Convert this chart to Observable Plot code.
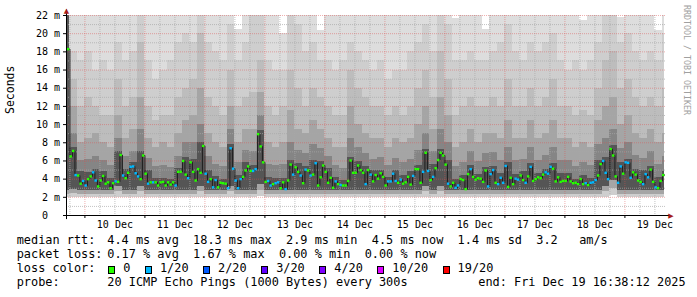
<!DOCTYPE html>
<html><head><meta charset="utf-8">
<script src="https://cdn.jsdelivr.net/npm/d3@7"></script>
<script src="https://cdn.jsdelivr.net/npm/@observablehq/plot@0.6"></script>
<style>
html,body{margin:0;padding:0;background:#fff;}
body{width:697px;height:297px;overflow:hidden;position:relative;}
#chart{position:absolute;left:0;top:0;}
.lg{position:absolute;font:11.88px/1 "DejaVu Sans Mono",monospace;white-space:pre;color:#000;}
.sq{position:absolute;box-sizing:border-box;width:7px;height:8px;border:1px solid #000;}
#credit{position:absolute;left:683px;top:5px;font:8.3px/1 "DejaVu Sans Mono",monospace;color:#a0a0a0;writing-mode:vertical-rl;white-space:pre;}
</style></head><body>
<div id="chart"></div>
<div id="credit">RRDTOOL / TOBI OETIKER</div>
<script>
// ---- hourly median RTT (ms), first bin starts Dec 9 17:00 ----
const medianMs = [
18.3,6.5,7.1,4.45,4.4,3.5,3.8,3.3,4.0,4.3,
4.75,3.85,3.2,3.85,4.35,3.5,3.65,3.0,3.55,3.75,
3.7,6.65,4.4,4.1,4.7,5.35,5.4,4.65,4.3,4.0,
6.6,4.6,3.5,3.65,3.65,3.65,3.3,3.65,3.7,3.3,
3.65,3.4,3.65,3.3,4.8,4.8,6.0,4.5,4.1,5.85,
4.8,3.85,5.1,4.7,7.65,4.6,3.7,4.0,3.1,3.9,
3.1,3.6,3.55,3.5,3.0,7.4,5.15,3.85,3.0,4.0,
4.25,4.95,5.4,4.9,4.9,5.1,8.95,7.6,5.85,3.7,
3.8,3.3,3.45,3.55,3.65,3.0,3.65,2.9,3.85,5.6,
4.5,5.3,4.8,4.4,3.55,5.05,4.95,4.4,4.5,5.75,
3.3,4.2,5.5,4.8,3.6,4.15,3.05,3.75,3.45,3.35,
3.3,3.3,3.8,6.05,4.7,4.7,5.5,5.0,4.7,3.45,
5.0,4.5,3.75,4.45,4.05,4.65,4.25,3.3,3.75,3.75,
4.6,3.8,3.6,3.95,3.5,3.65,4.25,3.4,4.35,5.1,
5.1,3.6,4.8,6.9,4.9,3.9,4.25,5.2,6.1,6.9,
6.6,5.6,3.5,3.2,3.6,3.05,3.3,4.0,3.9,2.9,
4.55,5.1,4.25,3.95,4.1,4.05,3.7,4.95,3.2,4.55,
5.0,3.6,3.45,4.15,3.6,5.45,3.15,4.15,3.45,4.05,
3.95,4.4,3.9,3.6,4.3,5.35,3.8,4.0,4.2,4.1,
4.5,4.75,4.6,5.35,5.15,3.75,4.2,3.7,3.8,3.8,
4.25,3.75,3.55,3.6,3.45,4.0,3.45,3.55,3.35,3.6,
3.65,3.9,4.4,5.65,6.0,4.7,4.0,7.3,6.6,4.3,
3.6,5.4,4.6,5.85,5.8,4.15,4.75,4.5,3.85,3.7,
3.45,4.55,4.2,5.05,3.7,3.1,3.0,3.8,4.45];
// ---- hourly lost pings (of 20) ----
const lossCount = [
0,0,0,1,0,0,1,1,0,0, 1,1,0,0,0,0,0,0,0,1, 0,0,1,0,0,1,1,1,1,0,
0,0,1,0,1,0,0,0,0,0, 0,0,0,1,0,0,0,0,1,0, 0,0,0,0,0,1,1,0,1,1,
0,0,0,0,1,1,1,1,1,1, 0,0,0,0,1,1,0,0,0,0, 1,1,0,1,1,0,0,1,0,0,
1,0,0,1,0,1,0,1,0,1, 0,0,0,0,0,0,0,1,0,1, 0,0,0,0,0,0,0,0,0,1,
0,1,0,0,0,0,0,0,1,1, 1,1,0,1,0,0,0,0,1,0, 0,0,1,0,1,0,1,0,0,0,
0,0,1,0,0,1,1,0,0,0, 0,1,0,0,0,0,0,0,1,1, 1,0,1,1,1,1,0,0,0,1,
1,0,0,1,0,1,0,0,0,0, 0,1,1,1,0,0,0,0,0,0, 0,0,0,0,0,0,0,1,0,1,
1,1,0,0,1,1,1,0,0,0, 1,1,0,1,1,1,0,0,0,0, 1,1,1,0,0,1,0,0,0];

// ---- smoke (ms): bin 0 = first hour, then 3-hour bins ----
const smokeHi0 = [23,23,23,23,23,23,23,23,23,23, 23,23,23,23,23,23,23,23,23,23, 23,23,23,20.5,23,23,23,23,23,20,
 23,23,23,23,20.3,23,23,23,23,23, 23,23,23,23,23,23,23,23,23,23, 23,23,21.7,23,23,23,20.5,23,23,23,
 23,23,23,23,23,23,23,23,23,21.5, 23,23,23,23,21.8,23,23,23,23,20.3, 23];
const smokeHi1 = [23,18,17,18,16,17,16,19,17,18, 22,17,15,16,17,19,20,19,23,19, 18,17,21,17,19,22,23,17,16,16,
 22,21,18,19,17,17,16,17,19,18, 17,16,17,15,16,16,18,19,21,18, 23,21,17,17,18,17,17,18,19,21,
 18,17,19,18,19,20,17,16,17,16, 17,19,23,23,19,20,18,17,18,17, 20];
const smokeHi2 = [23,15,12,13,12,11,11,15,12,13, 19,12,10.5,11,11,13,14,15,20,13, 12,11,16,12,13,13.5,17,12,11,12,
 16,14,12,14,13,12,11,11,16,14, 13,12,12,11,12,11,12,14,16,13, 18,15,11,12,13,12,12,13,12,15,
 12,12,14,12,13,15,12,12,11,11.5, 11,14,17,18,14,15,13,12,13,12, 14];
const smokeHi3 = [23,12,8.0,8.5,9.0,8.0,7.5,11,8.5,9.5, 13,8.5,7.5,8.0,7.5,9.0,10.5,11,14,9.0, 8.0,7.5,12,8.0,9.5,9.5,13.5,8.0,7.5,8.0,
 11.5,9.5,9.0,10.5,9.5,8.5,7.5,7.5,12,10, 9.0,8.5,8.5,7.5,8.5,8.0,8.5,10,12,9.5, 13,11,7.5,8.0,9.5,8.0,9.0,9.0,8.5,10.5,
 8.5,8.5,10.5,8.5,9.0,10.5,8.5,8.5,7.5,8.0, 7.5,10.5,12,13,10,11,9.0,8.5,9.5,8.0, 9.0];
const smokeHi4 = [23,9,6.0,6.2,6.5,6.0,5.5,8.5,6.5,7.0, 9.5,6.3,5.4,5.5,5.3,6.5,8.0,8.0,10,6.5, 5.6,5.4,9.5,5.8,7.2,7.0,11,5.6,5.5,5.6,
 8.0,7.2,6.8,7.8,7.4,6.5,5.5,5.2,8.5,7.5, 6.8,6.2,6.4,5.5,6.3,5.8,6.2,7.2,9.0,7.0, 9.5,8.0,5.4,5.8,7.0,5.9,6.8,6.9,6.0,7.5,
 6.0,6.2,7.5,6.0,6.6,7.5,6.0,6.0,5.4,5.8, 5.5,7.8,8.5,9.5,7.4,8.0,6.6,6.3,7.0,5.6, 6.5];
const smokeHi5 = [23,7.5,4.8,4.7,5.1,4.8,4.1,7.0,5.1,5.8, 7.0,5.0,4.1,4.1,4.0,5.2,6.4,6.2,8.0,5.0, 4.3,4.0,7.8,4.4,5.8,5.5,9.3,4.2,4.1,4.1,
 6.0,5.7,5.4,6.1,5.9,5.2,4.2,3.8,6.4,5.9, 5.4,4.9,5.0,4.2,5.0,4.4,4.8,5.5,7.3,5.6, 7.3,6.0,4.0,4.4,5.5,4.5,5.3,5.4,4.6,5.8,
 4.5,4.8,5.7,4.6,5.1,5.7,4.6,4.6,4.0,4.4, 4.1,6.0,6.4,7.7,5.8,6.2,5.1,4.9,5.4,4.2, 4.8];
const smokeLo0 = [2.0,2.0,2.0,2.0,2.0,2.0,2.0,2.0,2.0,2.0, 2.0,2.0,2.0,2.0,2.0,2.0,2.0,2.0,2.0,2.0, 2.0,2.0,2.0,2.0,2.0,2.0,2.1,2.0,2.0,2.0,
 2.0,2.0,2.0,2.0,2.0,2.0,2.0,2.0,2.0,2.0, 2.0,2.0,2.0,2.0,2.0,2.0,2.0,2.0,2.0,2.0, 2.0,2.0,2.0,2.0,2.0,2.0,2.0,2.0,2.0,2.0,
 2.0,2.0,2.0,2.0,2.0,2.0,2.0,2.0,2.0,2.0, 2.0,2.0,2.0,2.2,2.0,2.0,2.0,2.0,2.0,2.0, 2.0];
const smokeLo2 = [2.3,2.4,2.3,2.3,2.3,2.3,2.3,2.6,2.3,2.3, 2.6,2.3,2.3,2.3,2.3,2.3,2.3,2.3,2.6,2.3, 2.3,2.3,2.6,2.3,2.3,2.3,2.7,2.3,2.3,2.3,
 2.3,2.3,2.3,2.3,2.3,2.3,2.3,2.3,2.3,2.3, 2.3,2.3,2.3,2.3,2.3,2.3,2.3,2.3,2.6,2.3, 2.6,2.3,2.3,2.3,2.3,2.3,2.3,2.3,2.3,2.3,
 2.3,2.3,2.3,2.3,2.3,2.3,2.3,2.3,2.3,2.3, 2.3,2.3,2.6,3.0,2.3,2.3,2.3,2.3,2.3,2.3, 2.3];
const smokeLo4 = [2.8,2.9,2.8,2.8,2.8,2.8,2.7,3.2,2.8,2.8, 3.2,2.8,2.7,2.8,2.7,2.8,2.8,2.8,3.2,2.8, 2.8,2.7,3.2,2.8,2.8,2.8,3.4,2.8,2.7,2.7,
 2.8,2.8,2.8,2.8,2.8,2.8,2.7,2.7,2.8,2.8, 2.8,2.8,2.8,2.8,2.8,2.8,2.8,2.8,3.2,2.8, 3.2,2.8,2.7,2.8,2.8,2.8,2.8,2.8,2.8,2.8,
 2.8,2.8,2.8,2.8,2.8,2.8,2.8,2.8,2.7,2.8, 2.7,2.8,3.2,3.8,2.8,2.8,2.8,2.8,2.8,2.7, 2.8];

// ---- axes / labels ----
const yMajor = [0,2,4,6,8,10,12,14,16,18,20,22];
const yMinor = [1,3,5,7,9,11,13,15,17,19,21];
const dayLabels = ["10 Dec","11 Dec","12 Dec","13 Dec","14 Dec","15 Dec","16 Dec","17 Dec","18 Dec","19 Dec"];
const lossNames = ["0","1/20","2/20","3/20","4/20","10/20","19/20"];
const lossPalette = ["#26ff00","#00b8ff","#0059ff","#5e00ff","#7e00ff","#dd00ff","#ff0000"];
const lossColorOfCount = {0:"#26ff00",1:"#00b8ff",2:"#0059ff",3:"#5e00ff",4:"#7e00ff",10:"#dd00ff",19:"#ff0000"};

const START = new Date(2025,11,9,16,38,12);
const END = new Date(2025,11,19,16,38,12);
const T0 = new Date(2025,11,9,17,0,0);
const HOUR = 3600e3;
const hourAt = h => new Date(T0.getTime() + h*HOUR);
const nH = medianMs.length;

const medRows = medianMs.map((v,i)=>({t1:hourAt(i), t2:hourAt(i+1), v, c: lossColorOfCount[lossCount[i]]}));
const medLine = medianMs.map((v,i)=>({t:hourAt(i), v})).concat([{t:hourAt(nH), v:medianMs[nH-1]}]);
const smokeRows = smokeHi0.map((_,j)=>({j, t1:hourAt(j===0?0:3*j-2), t2:hourAt(j===0?1:Math.min(3*j+1,nH))}));
const bands = [
  {hi:smokeHi0, lo:smokeLo0, fill:"#dddddd"},
  {hi:smokeHi1, lo:smokeLo0, fill:"#cecece"},
  {hi:smokeHi2, lo:smokeLo2, fill:"#bdbdbd"},
  {hi:smokeHi3, lo:smokeLo2, fill:"#a5a5a5"},
  {hi:smokeHi4, lo:smokeLo4, fill:"#858585"},
  {hi:smokeHi5, lo:smokeLo4, fill:"#555555"}
];
const days = d3.timeDay.range(START, END);
const minorT = d3.timeHour.every(6).range(START, END).filter(d=>d.getHours()!==0);
const noons = dayLabels.map((s,k)=>({s, t:new Date(2025,11,10+k,12)}));
const tickLen = 1.2*HOUR;
const font = "DejaVu Sans Mono";

const plot = Plot.plot({
  width:697, height:232,
  marginLeft:66, marginRight:31, marginTop:15, marginBottom:17,
  x:{type:"time", domain:[START,END], axis:null},
  y:{domain:[0,22], axis:null},
  color:{type:"identity"},
  style:{fontFamily:font, background:"#fff", overflow:"visible"},
  marks:[
    ...bands.map(b=>Plot.rect(smokeRows,{x1:"t1", x2:"t2", y1:d=>b.lo[d.j], y2:d=>Math.min(b.hi[d.j],22), fill:b.fill, shapeRendering:"crispEdges"})),
    Plot.ruleY(yMinor,{stroke:"#a8a8a8", strokeOpacity:0.7, strokeDasharray:"1,1"}),
    Plot.ruleX(minorT,{stroke:"#a8a8a8", strokeOpacity:0.7, strokeDasharray:"1,1"}),
    Plot.ruleY(yMajor.filter(v=>v>0),{stroke:"#e05050", strokeOpacity:0.45, strokeDasharray:"1,1"}),
    Plot.ruleX(days,{stroke:"#e05050", strokeOpacity:0.45, strokeDasharray:"1,1"}),
    Plot.line(medLine,{x:"t", y:"v", curve:"step-after", stroke:"#1e1e1e", strokeWidth:1}),
    Plot.ruleY(medRows,{y:"v", x1:"t1", x2:"t2", stroke:"c", strokeWidth:2.4}),
    // axes
    Plot.ruleY([0],{x1:new Date(START.getTime()-tickLen), x2:new Date(END.getTime()+1.6*HOUR), stroke:"#000"}),
    Plot.ruleX([START],{y1:-0.45, y2:22.6, stroke:"#000"}),
    Plot.ruleX(days,{y1:0, y2:-0.33, stroke:"#000"}),
    Plot.ruleY(yMajor,{x1:new Date(START.getTime()-tickLen), x2:START, stroke:"#000"}),
    Plot.text(["\u25B2"],{x:START, y:22, dy:-4.5, text:d=>d, fill:"#a61b1b", fontSize:7, fontFamily:"DejaVu Sans"}),
    Plot.text(["\u25B6"],{x:END, y:0, dx:4.5, text:d=>d, fill:"#a61b1b", fontSize:7, fontFamily:"DejaVu Sans"}),
    // tick labels
    Plot.text(yMajor,{x:START, y:d=>d, text:d=>String(d), dx:-18.5, textAnchor:"end", fontSize:10, fill:"#000"}),
    Plot.text(yMajor.filter(v=>v>0),{x:START, y:d=>d, text:()=>"m", dx:-12.5, textAnchor:"start", fontSize:10, fill:"#000"}),
    Plot.text(noons,{x:"t", y:0, text:"s", dy:9.5, fontSize:10, fill:"#000"}),
    Plot.text(["Seconds"],{frameAnchor:"left", dx:-56, dy:-1.5, rotate:-90, text:d=>d, fontSize:11.5, fill:"#000"})
  ]
});
document.getElementById("chart").appendChild(plot);

// ---- legend below the chart ----
function txt(x, baseline, s){
  const d=document.createElement("div"); d.className="lg";
  d.style.left=x+"px"; d.style.top=(baseline-10.05)+"px"; d.textContent=s;
  document.body.appendChild(d);
}
const labelX = 16.7, valX = 107.3, cw = 7.15;
const base = [245.5, 259.2, 272.9, 286.6];
txt(labelX, base[0], "median rtt:");
txt(valX, base[0], "4.4 ms avg  18.3 ms max  2.9 ms min  4.5 ms now  1.4 ms sd  3.2   am/s");
txt(labelX, base[1], "packet loss:");
txt(valX, base[1], "0.17 % avg  1.67 % max  0.00 % min  0.00 % now");
txt(labelX, base[2], "loss color:");
let lx = 108.3;
lossNames.forEach((n,k)=>{
  const s=document.createElement("div"); s.className="sq";
  s.style.left=lx+"px"; s.style.top="265.5px"; s.style.background=lossPalette[k];
  document.body.appendChild(s);
  txt(lx+15, base[2], n);
  lx = lx + 15 + n.length*cw + 14.5;
});
txt(labelX, base[3], "probe:");
txt(valX, base[3], "20 ICMP Echo Pings (1000 Bytes) every 300s");
txt(478.3, base[3], "end: Fri Dec 19 16:38:12 2025");
</script>
</body></html>
